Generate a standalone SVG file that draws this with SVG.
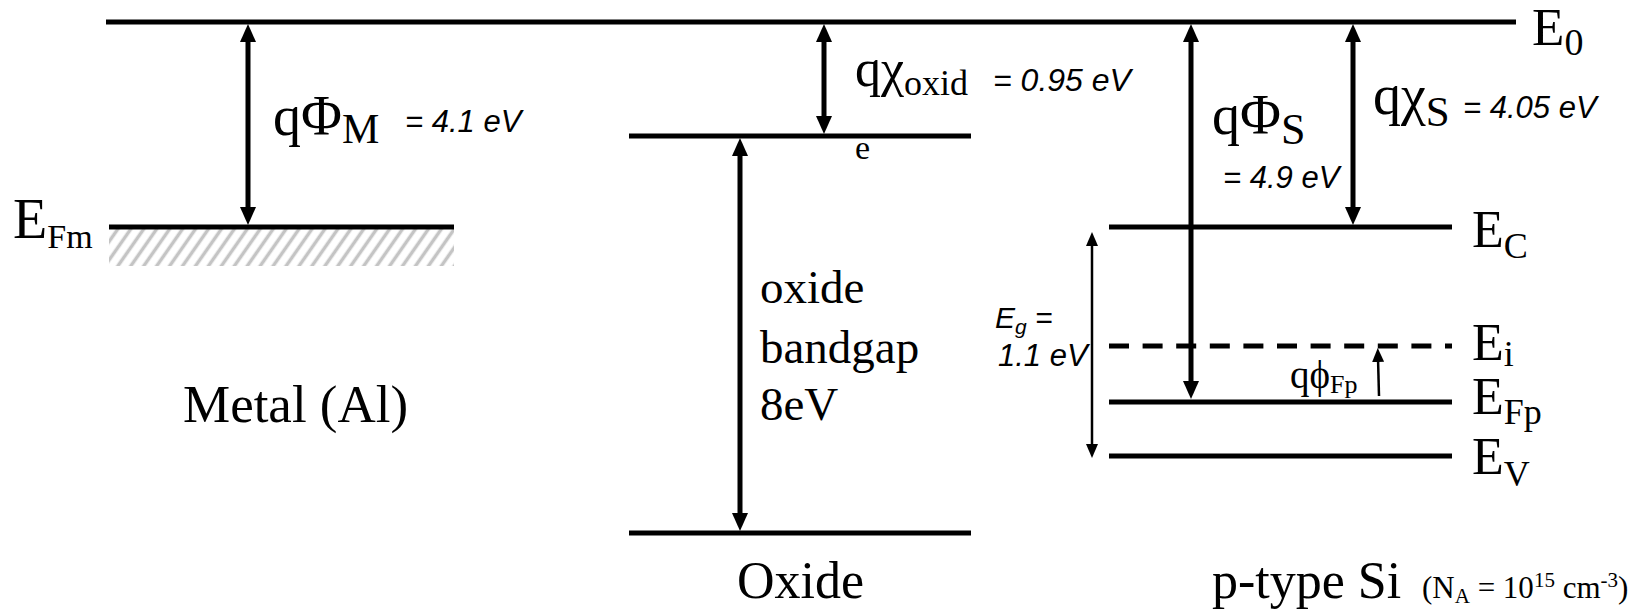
<svg xmlns="http://www.w3.org/2000/svg" width="1642" height="611" viewBox="0 0 1642 611">
<style>
.lvl{stroke:#000;stroke-width:5;fill:none}
.dash{stroke:#000;stroke-width:5;fill:none;stroke-dasharray:20 13.6}
.thick{stroke:#000;stroke-width:5;fill:none}
.thin{stroke:#000;stroke-width:2.5;fill:none}
.tm{font-family:"Liberation Serif","Times New Roman",serif;fill:#000}
.ar{font-family:"Liberation Sans",Arial,sans-serif;font-style:italic;fill:#000}
</style>
<defs>
<marker id="hd" markerUnits="userSpaceOnUse" markerWidth="18" markerHeight="16" refX="6" refY="8" orient="auto-start-reverse" viewBox="0 0 18 16">
<path d="M0,0 L18,8 L0,16 z" fill="#000"/>
</marker>
<marker id="hs" markerUnits="userSpaceOnUse" markerWidth="14" markerHeight="12" refX="4" refY="6" orient="auto-start-reverse" viewBox="0 0 14 12">
<path d="M0,0 L14,6 L0,12 z" fill="#000"/>
</marker>
<pattern id="hatch" patternUnits="userSpaceOnUse" width="10.6" height="10.6" patternTransform="rotate(35)">
<line x1="5.3" y1="-2" x2="5.3" y2="13" stroke="#c4c4c4" stroke-width="3.5"/>
</pattern>
</defs>

<g id="vacuum-level">
<line class="lvl" x1="106" y1="22" x2="1516" y2="22"/>
<text class="tm" x="1532" y="45" font-size="53">E<tspan font-size="38" dy="10">0</tspan></text>
</g>

<g id="metal">
<rect x="109" y="229" width="345" height="37" fill="url(#hatch)"/>
<line class="lvl" x1="109" y1="227" x2="454" y2="227"/>
<text class="tm" x="13" y="238" font-size="56">E<tspan font-size="34" dy="10">Fm</tspan></text>
<text class="tm" x="183" y="422" font-size="53">Metal (Al)</text>
</g>

<g id="oxide">
<line class="lvl" x1="629" y1="136" x2="971" y2="136"/>
<line class="lvl" x1="629" y1="533" x2="971" y2="533"/>
<text class="tm" x="760" y="303" font-size="47">oxide</text>
<text class="tm" x="760" y="363" font-size="47">bandgap</text>
<text class="tm" x="760" y="420" font-size="47">8eV</text>
<text class="tm" x="737" y="598" font-size="52">Oxide</text>
</g>

<g id="silicon">
<line class="lvl" x1="1109" y1="227" x2="1452" y2="227"/>
<line class="dash" x1="1109" y1="346" x2="1452" y2="346"/>
<line class="lvl" x1="1109" y1="402" x2="1452" y2="402"/>
<line class="lvl" x1="1109" y1="456" x2="1452" y2="456"/>
<text class="tm" x="1472" y="247" font-size="52">E<tspan font-size="36" dy="11">C</tspan></text>
<text class="tm" x="1472" y="360" font-size="52">E<tspan font-size="36" dy="6">i</tspan></text>
<text class="tm" x="1472" y="414" font-size="52">E<tspan font-size="36" dy="10">Fp</tspan></text>
<text class="tm" x="1472" y="474" font-size="52">E<tspan font-size="36" dy="12">V</tspan></text>
<text class="tm" x="1212" y="598" font-size="52">p-type Si</text>
<text class="tm" x="1422" y="598" font-size="31">(N<tspan font-size="21" dy="5">A</tspan><tspan dy="-5"> = 10</tspan><tspan font-size="21" dy="-11">15</tspan><tspan dy="11"> cm</tspan><tspan font-size="21" dy="-11">-3</tspan><tspan dy="11">)</tspan></text>
</g>

<g id="connectors">
<line class="thick" x1="248" y1="36" x2="248" y2="213" marker-start="url(#hd)" marker-end="url(#hd)"/>
<line class="thick" x1="824" y1="36" x2="824" y2="122" marker-start="url(#hd)" marker-end="url(#hd)"/>
<line class="thick" x1="740" y1="150" x2="740" y2="519" marker-start="url(#hd)" marker-end="url(#hd)"/>
<line class="thick" x1="1191" y1="36" x2="1191" y2="387" marker-start="url(#hd)" marker-end="url(#hd)"/>
<line class="thick" x1="1353" y1="36" x2="1353" y2="213" marker-start="url(#hd)" marker-end="url(#hd)"/>
<line class="thin" x1="1092" y1="242" x2="1092" y2="448" marker-start="url(#hs)" marker-end="url(#hs)"/>
<line class="thin" x1="1379" y1="396" x2="1378" y2="358" marker-end="url(#hs)"/>
</g>

<g id="labels">
<text class="tm" x="273" y="135" font-size="56">qΦ<tspan font-size="42" dy="8">M</tspan></text>
<text class="ar" x="405" y="132" font-size="31">= 4.1 eV</text>
<text class="tm" x="855" y="86" font-size="52">qχ<tspan font-size="36" dy="9">oxid</tspan></text>
<text class="tm" x="855" y="159" font-size="34">e</text>
<text class="ar" x="993" y="91" font-size="32">= 0.95 eV</text>
<text class="tm" x="1212" y="134" font-size="56">qΦ<tspan font-size="44" dy="10">S</tspan></text>
<text class="ar" x="1223" y="188" font-size="31">= 4.9 eV</text>
<text class="tm" x="1373" y="114" font-size="56">qχ<tspan font-size="43" dy="12">S</tspan></text>
<text class="ar" x="1463" y="118" font-size="31">= 4.05 eV</text>
<text class="tm" x="1290" y="388" font-size="39">qϕ<tspan font-size="26" dy="5">Fp</tspan></text>
<text class="ar" x="995" y="328" font-size="30">E<tspan font-size="21" dy="6">g</tspan><tspan dy="-6"> =</tspan></text>
<text class="ar" x="998" y="366" font-size="31">1.1 eV</text>
</g>
</svg>
